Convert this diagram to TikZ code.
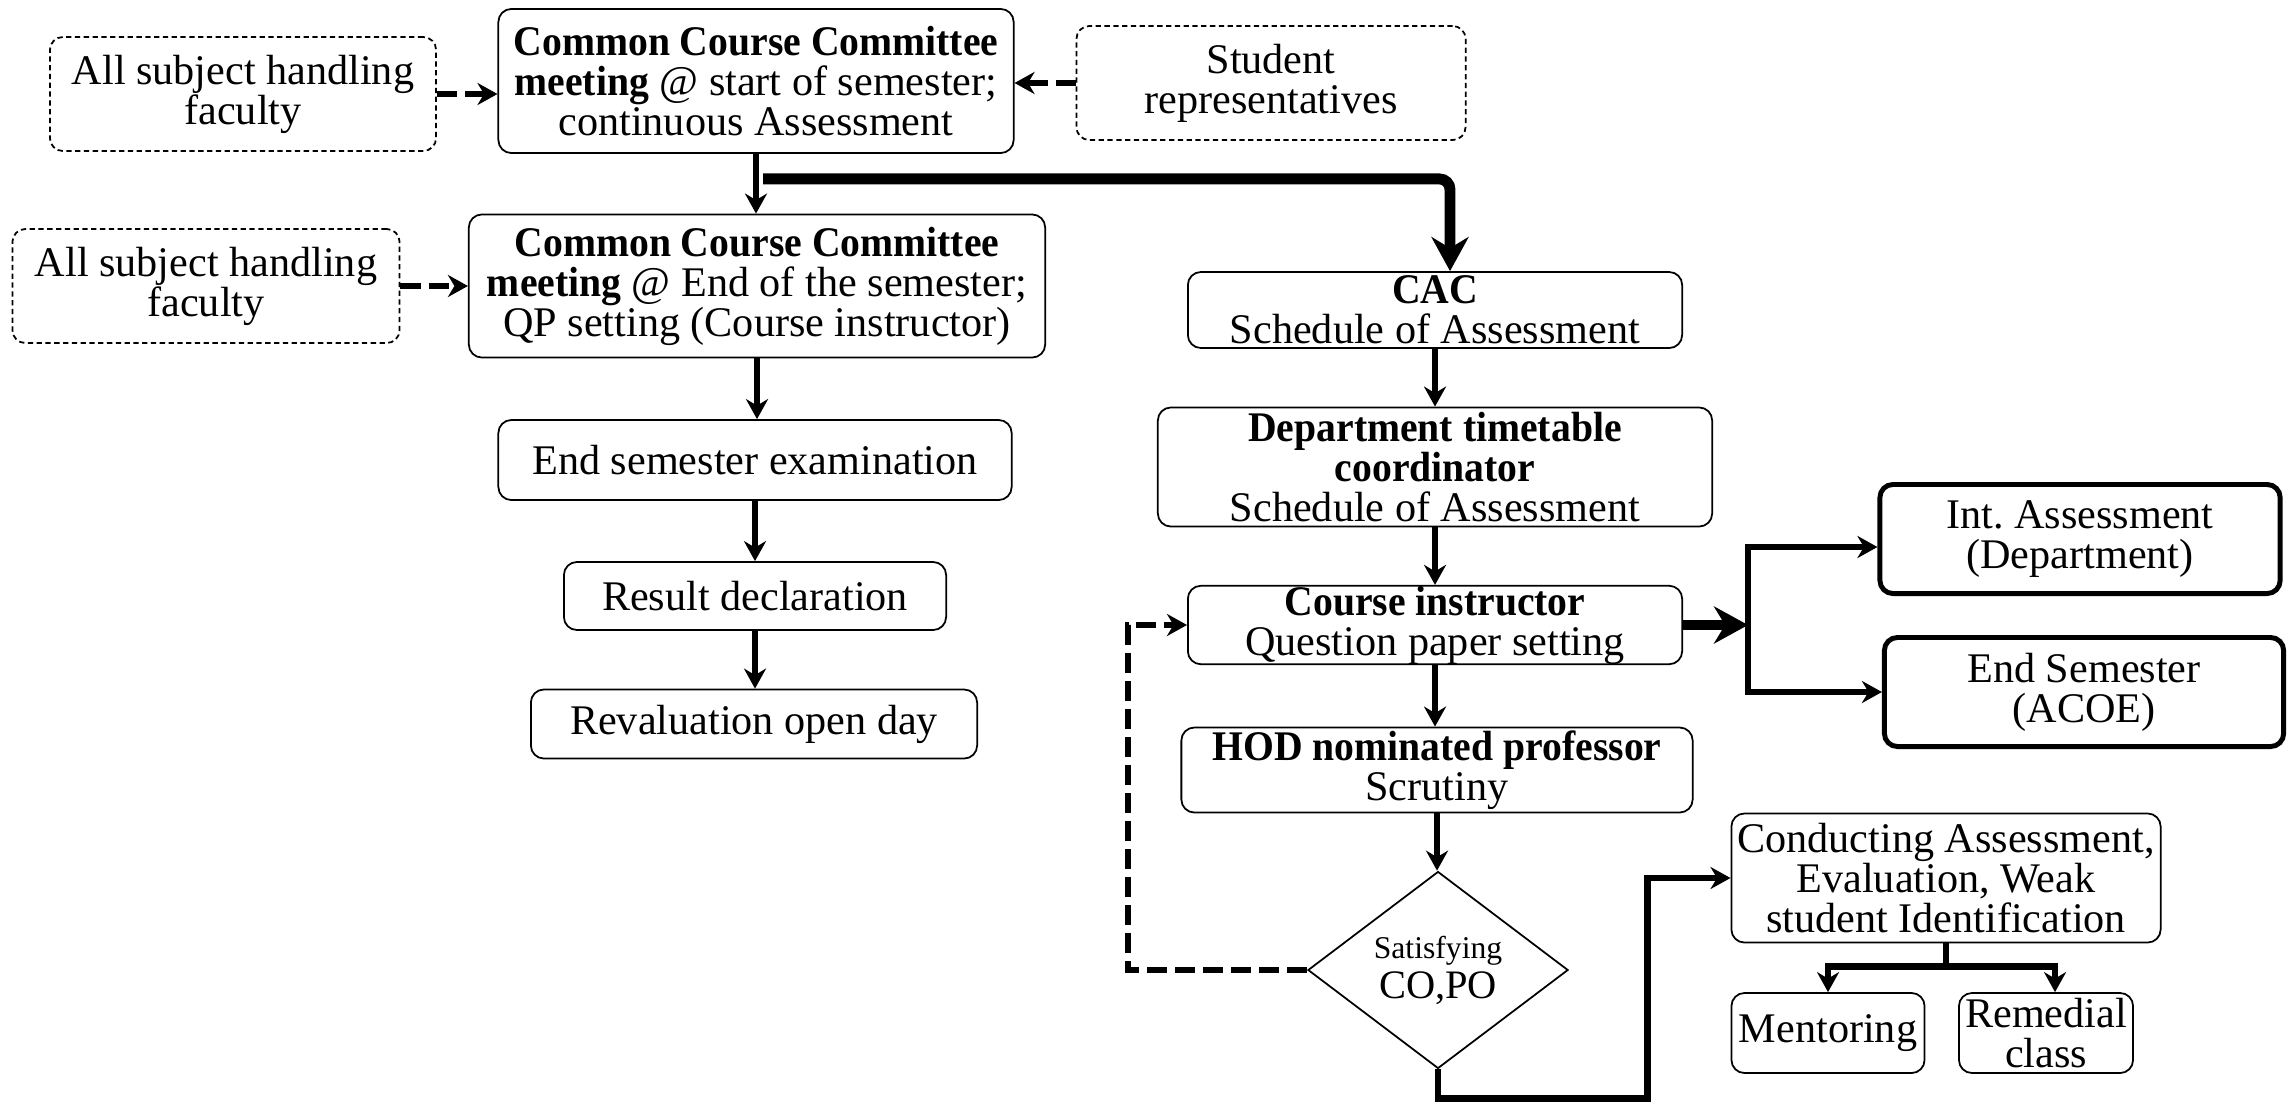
\documentclass[tikz,border=0pt]{standalone}
\usepackage{fontspec}
\setmainfont{Liberation Serif}[BoldFeatures={FakeStretch=0.94}]
\usetikzlibrary{arrows.meta,calc,shapes.geometric}
\tikzset{
	box/.style={draw, rounded corners=0.13cm, line width=0.5pt, align=center, inner sep=0pt, font=\fontsize{12}{11.4}\selectfont},
	dbox/.style={box, dash pattern=on 1.5pt off 1pt},
	tbox/.style={box, line width=1.4pt},
	arr/.style={line width=1.8pt, -{Stealth[length=0.2cm,width=0.22cm]}},
	bigarr/.style={line width=3.1pt, -{Stealth[length=0.34cm,width=0.37cm]}},
	darr/.style={arr, dash pattern=on 0.2cm off 0.08cm},
}

\begin{document}
\begin{tikzpicture}[x=0.01cm, y=-0.01cm]
			%%%%% START %%%%%
			\useasboundingbox (0,0) rectangle (2292,1103);
			
			\node[dbox, minimum width=3.86cm, minimum height=1.14cm] (fac1) at (243,94) {All subject handling\\faculty};
			\node[box, minimum width=5.15cm, minimum height=1.44cm] (ccc1) at (756,81) {\textbf{Common Course Committee}\\\textbf{meeting} @ start of semester;\\continuous Assessment};
			\node[dbox, minimum width=3.89cm, minimum height=1.14cm] (stud) at (1271,83) {Student\\representatives};
			
			\node[dbox, minimum width=3.87cm, minimum height=1.14cm] (fac2) at (206,286) {All subject handling\\faculty};
			\node[box, minimum width=5.76cm, minimum height=1.43cm] (ccc2) at (757,286) {\textbf{Common Course Committee}\\\textbf{meeting} @ End of the semester;\\QP setting (Course instructor)};
			
			\node[box, minimum width=5.13cm, minimum height=0.8cm] (endsem) at (755,460) {End semester examination};
			\node[box, minimum width=3.82cm, minimum height=0.68cm] (result) at (755,596) {Result declaration};
			\node[box, minimum width=4.46cm, minimum height=0.69cm] (reval) at (754,724) {Revaluation open day};
			
			\node[box, minimum width=4.94cm, minimum height=0.76cm] (cac) at (1435,310) {\textbf{CAC}\\Schedule of Assessment};
			\node[box, minimum width=5.54cm, minimum height=1.19cm] (dtc) at (1435,467) {\textbf{Department timetable}\\\textbf{coordinator}\\Schedule of Assessment};
			\node[box, minimum width=4.94cm, minimum height=0.78cm] (ci) at (1435,625) {\textbf{Course instructor}\\Question paper setting};
			\node[box, minimum width=5.11cm, minimum height=0.85cm] (hod) at (1437,770) {\textbf{HOD nominated professor}\\Scrutiny};
			\node[draw, diamond, line width=0.5pt, minimum width=2.6cm, minimum height=1.92cm, inner sep=0pt, align=center, font=\fontsize{11.5}{11.4}\selectfont] (sat) at (1438,970) {{\fontsize{9}{11.4}\selectfont Satisfying}\\CO,PO};
			
			\node[tbox, minimum width=4.0cm, minimum height=1.09cm] (intas) at (2080,539) {Int.\ Assessment\\(Department)};
			\node[tbox, minimum width=3.99cm, minimum height=1.09cm] (endsa) at (2084,692) {End Semester\\(ACOE)};
			
			\node[box, minimum width=4.29cm, minimum height=1.29cm] (cond) at (1946,878) {Conducting Assessment,\\Evaluation, Weak\\student Identification};
			\node[box, minimum width=1.93cm, minimum height=0.8cm] (ment) at (1828,1033) {Mentoring};
			\node[box, minimum width=1.74cm, minimum height=0.8cm] (reme) at (2046,1033) {Remedial\\class};
			
			\draw[darr] (fac1.east) -- (fac1.east -| ccc1.west);
			\draw[darr] (stud.west) -- (stud.west -| ccc1.east);
			\draw[darr] (fac2.east) -- (ccc2.west);
			
			\draw[arr] (ccc1.south) -- (ccc1.south |- ccc2.north);
			\draw[bigarr, rounded corners=3pt] ($(ccc1.south)+(7,25)$) -| ([xshift=0.15cm]cac.north);
			
			\draw[arr] (ccc2.south) -- (ccc2.south |- endsem.north);
			\draw[arr] (endsem.south) -- (endsem.south |- result.north);
			\draw[arr] (result.south) -- (result.south |- reval.north);
			
			\draw[arr] (cac.south) -- (dtc.north);
			\draw[arr] (dtc.south) -- (ci.north);
			\draw[arr] (ci.south) -- (ci.south |- hod.north);
			\draw[arr] (hod.south) -- (hod.south |- sat.north);
			
			\coordinate (split) at ($(ci.east)+(65,0)$);
			\draw[bigarr] (ci.east) -- (split);
			\draw[arr] (split) |- ([yshift=-0.08cm]intas.west);
			\draw[arr] (split) |- (endsa.west);
			
			\draw[darr] (sat.west) -- ++(-179,0) |- (ci.west);
			\draw[arr] (sat.south) -- ++(0,29) -| ($(cond.west)+(-83,0)$) -- (cond.west);
			
			\draw[arr] (cond.south) -- ++(0,23) -| (ment.north);
			\draw[arr] (cond.south) -- ++(0,23) -| ([xshift=0.09cm]reme.north);
			
			%%%%% END %%%%%
\end{tikzpicture}
\end{document}
